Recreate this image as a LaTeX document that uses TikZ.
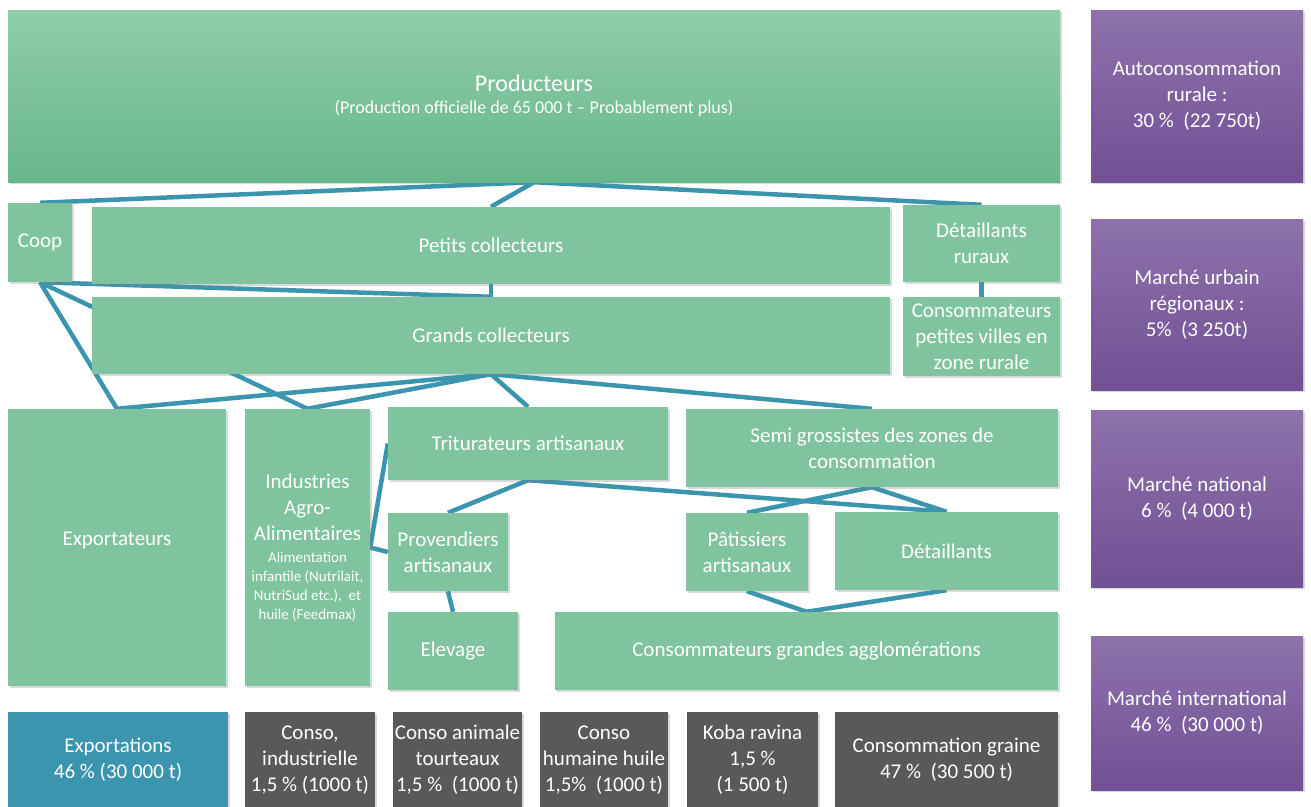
\documentclass[tikz,border=0pt]{standalone}
\usepackage{fontspec}
\setmainfont{Carlito}
\definecolor{boxgreen}{RGB}{127,196,158}
\definecolor{topgreen}{RGB}{143,205,169}
\definecolor{lowgreen}{RGB}{104,182,139}
\definecolor{flowblue}{RGB}{59,149,174}
\definecolor{darkgrey}{RGB}{89,89,89}
\definecolor{toppurple}{RGB}{141,114,171}
\definecolor{lowpurple}{RGB}{113,80,149}
\usetikzlibrary{positioning, shadows, backgrounds}
\newcommand{\smallline}[1]{{\fontsize{15}{18}\selectfont #1}}
\tikzset{
every node/.style={text=white, align=center, inner sep=0pt, font=\fontsize{21}{26}\selectfont}, % white centred text everywhere
dims/.style 2 args={minimum width=#1pt, minimum height=#2pt}, % box size in sketch pixels
flowbox/.style={rectangle, fill=boxgreen, drop shadow={shadow xshift=1.5pt, shadow yshift=-2pt, opacity=0.3}}, % an actor of the chain
market/.style={rectangle, top color=toppurple, bottom color=lowpurple, drop shadow={shadow xshift=1.5pt, shadow yshift=-2pt, opacity=0.3}}, % market share on the right
outlet/.style={rectangle, fill=darkgrey, drop shadow={shadow xshift=1.5pt, shadow yshift=-2pt, opacity=0.3}}, % final use at the bottom
flowline/.style={draw=flowblue, line width=4.5pt}, % the flows between actors
}

\begin{document}
\begin{tikzpicture}[x=1pt, y=-1pt]
      \useasboundingbox (0,0) rectangle (1311,806);

      % actors
      \node[flowbox, top color=topgreen, bottom color=lowgreen, dims={1052}{172}] (prod) at (534,96)
        {{\fontsize{24}{28}\selectfont Producteurs}\\[-4pt]{\fontsize{18}{22}\selectfont (Production officielle de 65 000 t -- Probablement plus)}};
      \node[flowbox, dims={64}{79}] (coop) at (40,242.5) {Coop};
      \node[flowbox, dims={798}{77}] (petits) at (491,245.5) {Petits collecteurs};
      \node[flowbox, dims={157}{77}] (detrur) at (981.5,243.5) {Détaillants\\ruraux};
      \node[flowbox, dims={798}{77}] (grands) at (491,335.5) {Grands collecteurs};
      \node[flowbox, dims={157}{79}] (petvil) at (981.5,336.5) {Consommateurs\\petites villes en\\zone rurale};
      \node[flowbox, dims={218}{277}] (export) at (117,547.5) {\raisebox{2pt}[0pt][0pt]{Exportateurs}};
      \node[flowbox, dims={125}{277}] (indus) at (307.5,547.5)
        {Industries\\Agro-\\Alimentaires\\[-4pt]\smallline{Alimentation}\\[-7pt]\smallline{infantile (Nutrilait,}\\[-7pt]\smallline{NutriSud etc.),\ \ et}\\[-7pt]\smallline{huile (Feedmax)}};
      \node[flowbox, dims={280}{73}] (trit) at (528,443.5) {Triturateurs artisanaux};
      \node[flowbox, dims={372}{78}] (semi) at (872,448) {Semi grossistes des zones de\\consommation};
      \node[flowbox, dims={120}{78}] (prov) at (448,552) {Provendiers\\artisanaux};
      \node[flowbox, dims={122}{78}] (pat) at (747,552) {Pâtissiers\\artisanaux};
      \node[flowbox, dims={223}{78}] (det) at (946.5,551) {Détaillants};
      \node[flowbox, dims={130}{78}] (elev) at (453,651) {Elevage};
      \node[flowbox, dims={503}{78}] (grandes) at (806.5,651) {Consommateurs grandes agglomérations};

      % markets
      \node[market, dims={212}{172}] (auto) at (1197,96) {Autoconsommation\\rurale :\\30 \%\ \ (22 750t)};
      \node[market, dims={212}{171}] (urbain) at (1197,304.5) {Marché urbain\\régionaux :\\5\%\ \ (3 250t)};
      \node[market, dims={212}{177}] (national) at (1197,498.5) {Marché national\\6 \%\ \ (4 000 t)};
      \node[market, dims={212}{154}] (inter) at (1197,713) {Marché international\\46 \%\ \ (30 000 t)};

      % final uses
      \node[outlet, fill=flowblue, dims={220}{96}] (expo) at (118,760) {Exportations\\46 \% (30 000 t)};
      \node[outlet, dims={130}{96}] (cind) at (310,760) {Conso,\\industrielle\\1,5 \% (1000 t)};
      \node[outlet, dims={129}{96}] (canim) at (457.5,760) {Conso animale\\tourteaux\\1,5 \%\ \ (1000 t)};
      \node[outlet, dims={128}{96}] (chum) at (604,760) {Conso\\humaine huile\\1,5\%\ \ (1000 t)};
      \node[outlet, dims={131}{96}] (koba) at (752.5,760) {Koba ravina\\1,5 \%\\(1 500 t)};
      \node[outlet, dims={223}{96}] (graine) at (946.5,760) {Consommation graine\\47 \%\ \ (30 500 t)};

      \begin{scope}[on background layer]
      \draw[flowline] (prod.south) edge (coop.north)
      (prod.south) edge (petits.north)
      (prod.south) edge (detrur.north)
      (coop.south) edge (grands.north)
      (petits.south) edge (grands.north)
      (coop.south) edge (export.north)
      (coop.south) edge (indus.north)
      (detrur.south) edge (petvil.north)
      (grands.south) edge (export.north)
      (grands.south) edge (indus.north)
      (grands.south) edge (trit.north)
      (grands.south) edge (semi.north)
      (trit.west) edge (indus.east)
      (indus.east) edge (prov.west)
      (trit.south) edge (prov.north)
      (trit.south) edge (det.north)
      (semi.south) edge (pat.north)
      (semi.south) edge (det.north)
      (prov.south) edge (elev.north)
      (pat.south) edge (grandes.north)
      (det.south) edge (grandes.north);
      \end{scope}
\end{tikzpicture}
\end{document}
